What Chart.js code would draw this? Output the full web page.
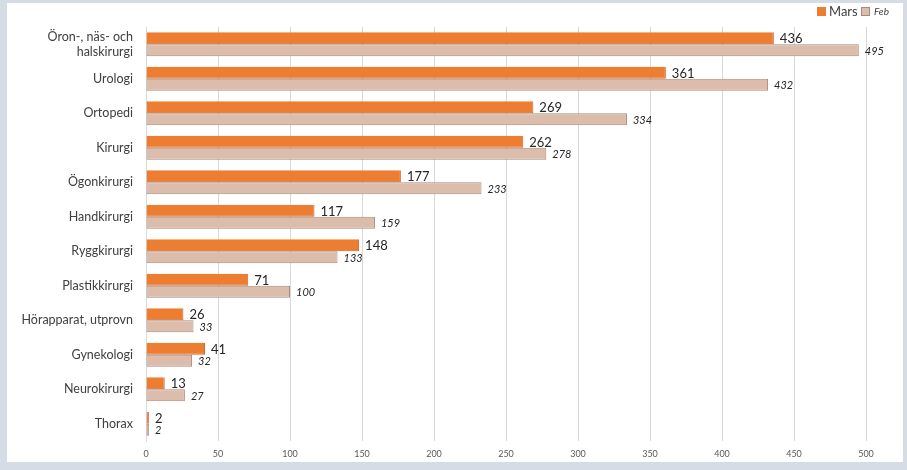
<!DOCTYPE html>
<html>
<head>
<meta charset="utf-8">
<script src="https://cdn.jsdelivr.net/npm/chart.js@4"></script>
<style>
  html, body { margin: 0; padding: 0; background: #d6dce6; }
  #wrap { position: relative; width: 907px; height: 470px; }
</style>
</head>
<body>
<div id="wrap"><canvas id="myChart" width="907" height="470"></canvas></div>
<script>
const categories = [
  ["Öron-, näs- och", "halskirurgi"], "Urologi", "Ortopedi", "Kirurgi", "Ögonkirurgi",
  "Handkirurgi", "Ryggkirurgi", "Plastikkirurgi", "Hörapparat, utprovn", "Gynekologi",
  "Neurokirurgi", "Thorax"
]
const marsValues = [436, 361, 269, 262, 177, 117, 148, 71, 26, 41, 13, 2]
const febValues = [495, 432, 334, 278, 233, 159, 133, 100, 33, 32, 27, 2]
const xTicks = [0, 50, 100, 150, 200, 250, 300, 350, 400, 450, 500]

const fontName = "Lato, 'Liberation Sans', sans-serif"
const orange = "#ed7d31"
const febFill = "#dcbcab"
const febBorder = "#a88a7c"

// frame + white panel behind the chart
const framePlugin = {
  id: "frame",
  beforeDraw(chart) {
    const c = chart.ctx
    c.save()
    c.fillStyle = "#d6dce6"
    c.fillRect(0, 0, chart.width, chart.height)
    c.fillStyle = "#ffffff"
    c.fillRect(7, 3, 896, 459)
    c.restore()
  }
}

// value labels at bar ends
const labelPlugin = {
  id: "valueLabels",
  afterDatasetsDraw(chart) {
    const c = chart.ctx
    c.save()
    c.textBaseline = "middle"
    c.textAlign = "left"
    chart.data.datasets.forEach((ds, i) => {
      const meta = chart.getDatasetMeta(i)
      meta.data.forEach((bar, j) => {
        if (i == 0) {
          c.font = "13px " + fontName
          c.fillStyle = "#262626"
        } else {
          c.font = "italic 11px " + fontName
          c.fillStyle = "#262626"
        }
        c.fillText(ds.data[j], bar.x + 6, bar.y + 1)
      })
    })
    c.restore()
  }
}

// legend in the top right corner
const legendPlugin = {
  id: "cornerLegend",
  afterDraw(chart) {
    const c = chart.ctx
    c.save()
    c.textBaseline = "middle"
    c.fillStyle = orange
    c.fillRect(817, 7, 9, 9)
    c.font = "13px " + fontName
    c.fillStyle = "#404040"
    c.fillText("Mars", 829, 12)
    c.fillStyle = febFill
    c.fillRect(861, 7, 9, 9)
    c.strokeStyle = febBorder
    c.lineWidth = 1
    c.strokeRect(861.5, 7.5, 8, 8)
    c.font = "italic 10px " + fontName
    c.fillStyle = "#404040"
    c.fillText("Feb", 874, 12)
    c.restore()
  }
}

const ctx = document.getElementById("myChart")
new Chart(ctx, {
  type: "bar",
  data: {
    labels: categories,
    datasets: [
      {
        label: "Mars",
        data: marsValues,
        backgroundColor: orange,
        borderColor: "#c9652a",
        borderWidth: {top: 0, right: 1, bottom: 1, left: 0},
        borderSkipped: false,
        categoryPercentage: 0.7,
        barPercentage: 1.0
      },
      {
        label: "Feb",
        data: febValues,
        backgroundColor: febFill,
        borderColor: febBorder,
        borderWidth: 1,
        borderSkipped: false,
        categoryPercentage: 0.7,
        barPercentage: 1.0
      }
    ]
  },
  options: {
    indexAxis: "y",
    responsive: false,
    animation: false,
    layout: { padding: { left: 0, top: 27, right: 41, bottom: 0 } },
    plugins: {
      legend: { display: false },
      tooltip: { enabled: false }
    },
    scales: {
      x: {
        min: 0,
        max: 500,
        afterBuildTicks: axis => { axis.ticks = xTicks.map(v => ({ value: v })) },
        afterFit: axis => { axis.height = 29 },
        border: { display: false },
        grid: { color: "#d9d9d9", drawTicks: false },
        ticks: {
          padding: 8,
          color: "#595959",
          font: { family: fontName, size: 9 }
        }
      },
      y: {
        afterFit: axis => { axis.width = 146 },
        border: { display: true, color: "#d9d9d9" },
        grid: { display: false, drawTicks: false },
        ticks: {
          padding: 13,
          color: "#404040",
          font: { family: fontName, size: 12.5 }
        }
      }
    }
  },
  plugins: [framePlugin, labelPlugin, legendPlugin]
})
</script>
</body>
</html>
